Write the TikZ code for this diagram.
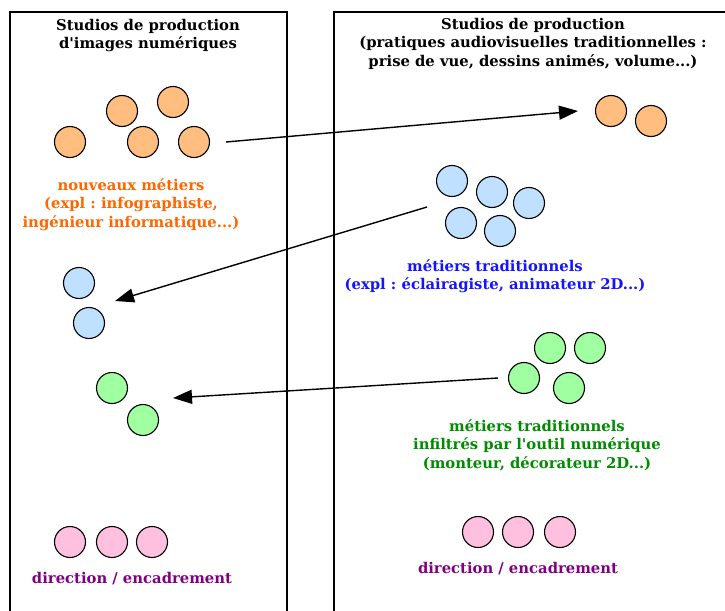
\documentclass[tikz,border=0pt]{standalone}
\usepackage{fontspec}
\setmainfont{DejaVu Serif}
\usepackage{tikz}
\usetikzlibrary{positioning, arrows.meta}
\definecolor{dotorange}{RGB}{255,190,128}
\definecolor{dotblue}{RGB}{192,224,255}
\definecolor{dotgreen}{RGB}{160,255,160}
\definecolor{dotpink}{RGB}{255,192,224}
\definecolor{txtorange}{RGB}{255,102,0}
\definecolor{txtblue}{RGB}{20,20,255}
\definecolor{txtgreen}{RGB}{0,140,0}
\definecolor{txtpurple}{RGB}{128,0,128}
\frenchspacing

\begin{document}
\begin{tikzpicture}[
  x=1pt, y=-1pt,
  dot/.style={draw, circle, line width=1.1pt, minimum size=31pt, inner sep=0pt},
  orangedot/.style={dot, fill=dotorange},
  bluedot/.style={dot, fill=dotblue},
  greendot/.style={dot, fill=dotgreen},
  pinkdot/.style={dot, fill=dotpink},
  caption/.style={font=\fontsize{14.8}{18.5}\selectfont\bfseries, align=center, inner sep=0pt, anchor=north},
  studio/.style={line width=1.2pt},
  arrow/.style={-{Triangle[length=19pt, width=14pt]}, line width=1.4pt},
]

  \clip (0,0) rectangle (725,610);

  % Studio frames
  \draw [studio] (10,620) |- (287,12) -- (287,620);
  \draw [studio] (334,620) |- (740,12);

  % Titles
  \node (digitaltitle) [caption] at (148,19) {Studios de production\\d\textquotesingle images numériques};
  \node (tradtitle) [caption] at (533,18) {Studios de production\\(pratiques audiovisuelles traditionnelles :\\prise de vue, dessins animés, volume...)};

  % Groups of people
  \foreach \p [count=\k] in {(70,142), (122,111), (173,102), (143,142), (194,142)}
    \node (neworange\k) [orangedot] at \p {};
  \foreach \p [count=\k] in {(611,111), (651,121)}
    \node (tradorange\k) [orangedot] at \p {};
  \foreach \p [count=\k] in {(452,181), (492,192), (529,203), (461,223), (500,231)}
    \node (tradblue\k) [bluedot] at \p {};
  \foreach \p [count=\k] in {(79,283), (89,323)}
    \node (newblue\k) [bluedot] at \p {};
  \foreach \p [count=\k] in {(550,348), (590,348), (524,378), (569,388)}
    \node (tradgreen\k) [greendot] at \p {};
  \foreach \p [count=\k] in {(112,388), (143,420)}
    \node (newgreen\k) [greendot] at \p {};
  \foreach \p [count=\k] in {(70,542), (112,542), (152,542)}
    \node (newpink\k) [pinkdot] at \p {};
  \foreach \p [count=\k] in {(478,532), (518,532), (560,532)}
    \node (tradpink\k) [pinkdot] at \p {};

  % Captions
  \node (newlabel) [caption, text=txtorange] at (131,178) {nouveaux métiers\\(expl : infographiste,\\ingénieur informatique...)};
  \node (bluelabel) [caption, text=txtblue] at (495,259) {métiers traditionnels\\(expl : éclairagiste, animateur 2D...)};
  \node (greenlabel) [caption, text=txtgreen] at (537,419) {métiers traditionnels\\infiltrés par l\textquotesingle outil numérique\\(monteur, décorateur 2D...)};
  \node (pinkleft) [caption, text=txtpurple] at (132,572) {direction / encadrement};
  \node (pinkright) [caption, text=txtpurple] at (518,562) {direction / encadrement};

  % Arrow ends
  \coordinate (orangefrom) at (226,142);
  \coordinate (orangeto) at (578,111);
  \coordinate (bluefrom) at (427,207);
  \coordinate (blueto) at (115,301);
  \coordinate (greenfrom) at (498,378);
  \coordinate (greento) at (173,398);

  \draw [arrow] (orangefrom) -- (orangeto);
  \draw [arrow] (bluefrom) -- (blueto);
  \draw [arrow] (greenfrom) -- (greento);

\end{tikzpicture}
\end{document}
